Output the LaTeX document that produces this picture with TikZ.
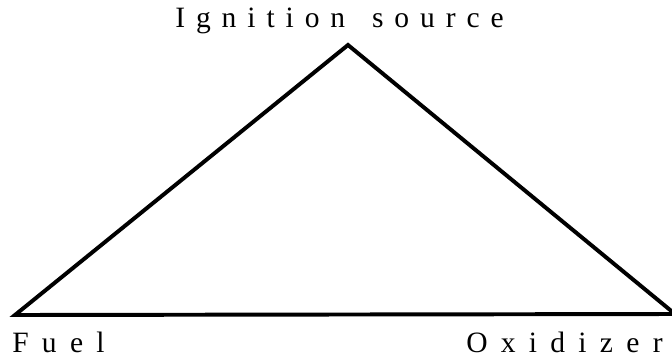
\documentclass[tikz,border=0pt]{standalone}
\usepackage{fontspec}
\setmainfont{Liberation Serif}
\usetikzlibrary{positioning}
\begin{document}
\begin{tikzpicture}[
    x=0.025cm, y=-0.025cm,
    side/.style={line width=2.8pt, line join=miter},
    lbl/.style={font=\fontsize{21}{24}\selectfont\addfontfeature{LetterSpace=#1}, inner sep=0pt},
    lbl/.default=45,
]
    \useasboundingbox (0,0) rectangle (672,357);
    \coordinate (ign) at (348,45);
    \coordinate (fuel) at (15,315);
    \coordinate (oxi) at (675,314);

    \draw[side] (fuel) -- (ign) -- (oxi) -- cycle;

    \node[lbl=37, anchor=base west] (ignlbl) at (175,27) {Ignition\hspace{6pt} source};
    \node[lbl, anchor=base west] (fuellbl) at (12,352) {Fuel};
    \node[lbl, anchor=base west] (oxilbl) at (466,352) {Oxidizer};
\end{tikzpicture}
\end{document}
